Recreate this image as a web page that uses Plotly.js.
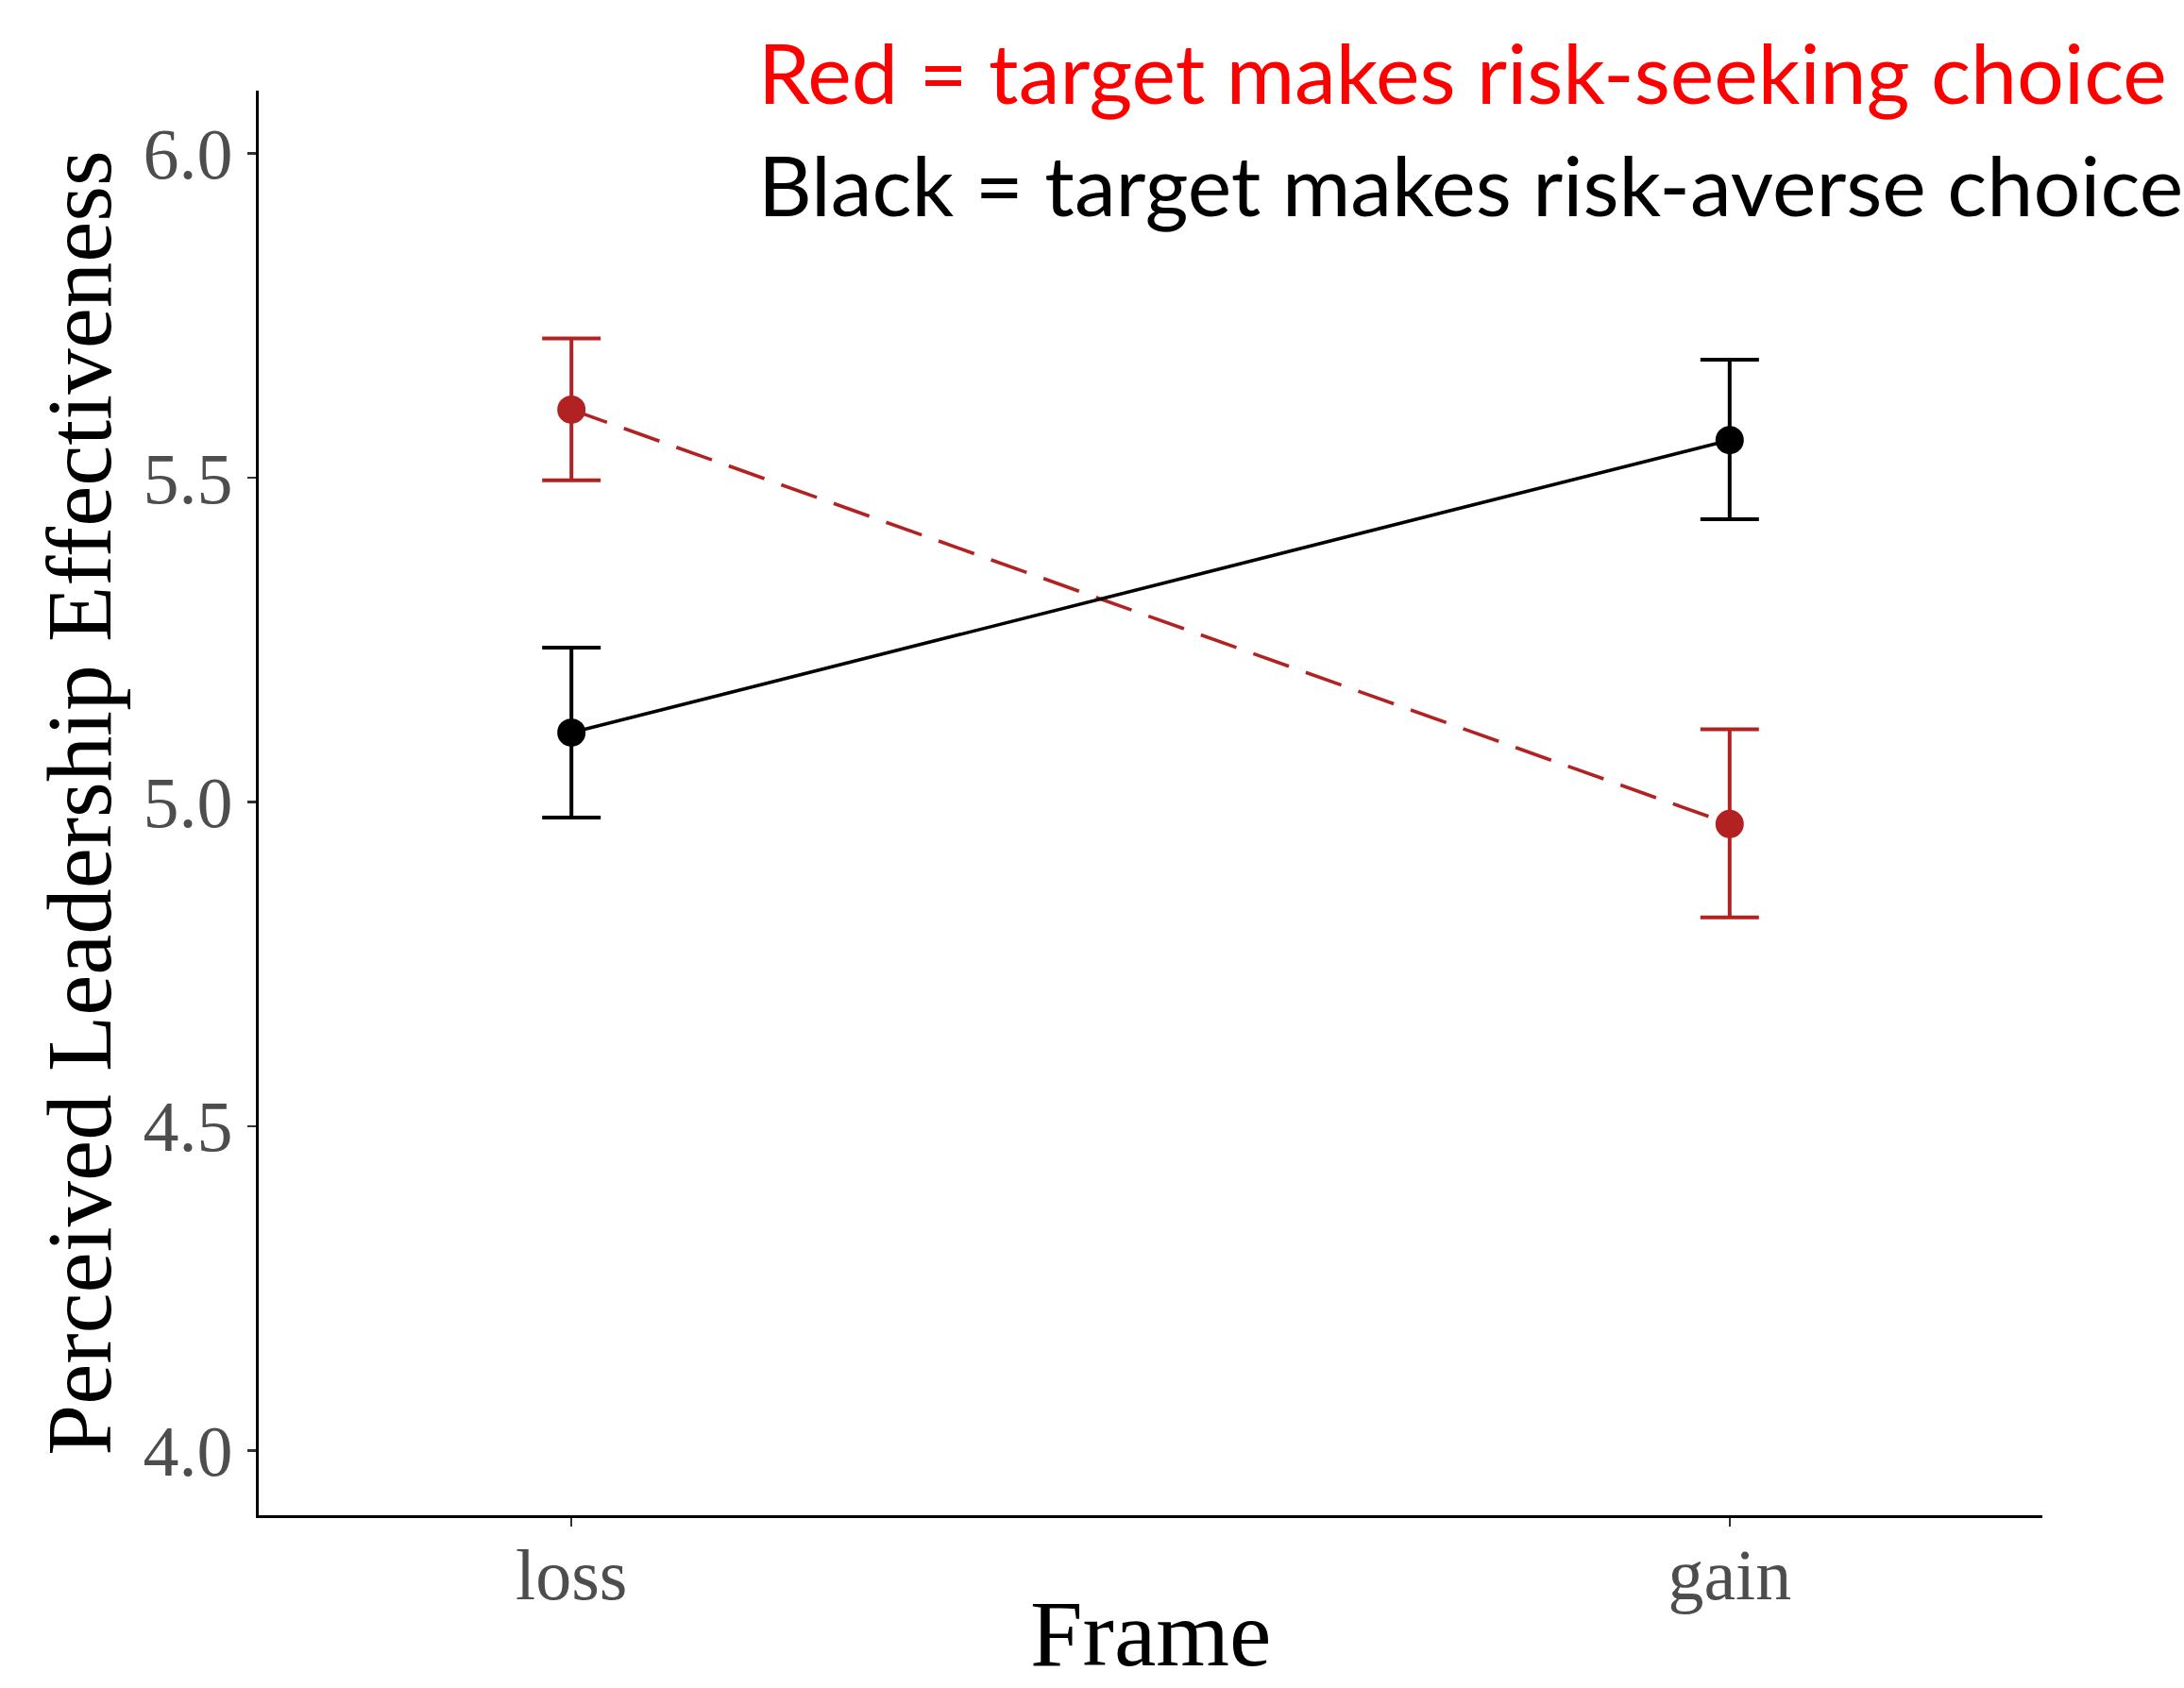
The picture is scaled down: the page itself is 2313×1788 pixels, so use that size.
<!DOCTYPE html>
<html>
<head>
<meta charset="utf-8">
<script src="https://cdn.plot.ly/plotly-3.0.1.min.js"></script>
<style>html,body{margin:0;padding:0;background:#fff;}#chart{width:2313px;height:1788px;}</style>
</head>
<body>
<div id="chart"></div>
<script>
// Data
const frames = ["loss", "gain"];
const riskSeekingMean = [5.605, 4.966];
const riskSeekingErrUp = [0.110, 0.146];
const riskSeekingErrDown = [0.109, 0.144];
const riskAverseMean = [5.107, 5.558];
const riskAverseErrUp = [0.131, 0.124];
const riskAverseErrDown = [0.131, 0.122];
const yTicks = [4.0, 4.5, 5.0, 5.5, 6.0];
const yTickText = ["4.0", "4.5", "5.0", "5.5", "6.0"];
const xTitle = "Frame";
const yTitle = "Perceived Leadership Effectiveness";
const legendLines = ["Red = target makes risk-seeking choice", "Black = target makes risk-averse choice"];

const red = "#B22222";
const traces = [
  {
    x: frames, y: riskSeekingMean, type: "scatter", mode: "lines+markers",
    line: {color: red, width: 3.6, dash: "40px,19px"},
    marker: {color: red, size: 30},
    error_y: {type: "data", symmetric: false, array: riskSeekingErrUp, arrayminus: riskSeekingErrDown,
              color: red, thickness: 4, width: 31},
    showlegend: false, hoverinfo: "skip"
  },
  {
    x: frames, y: riskAverseMean, type: "scatter", mode: "lines+markers",
    line: {color: "#000000", width: 3.6},
    marker: {color: "#000000", size: 30},
    error_y: {type: "data", symmetric: false, array: riskAverseErrUp, arrayminus: riskAverseErrDown,
              color: "#000000", thickness: 4, width: 31},
    showlegend: false, hoverinfo: "skip"
  }
];

const serif = "'Liberation Serif', 'Times New Roman', serif";
const layout = {
  width: 2313, height: 1788,
  paper_bgcolor: "#ffffff", plot_bgcolor: "#ffffff",
  margin: {l: 274, r: 150, t: 96, b: 183, pad: 0},
  showlegend: false,
  xaxis: {
    type: "category", range: [-0.27, 1.27],
    showline: true, linecolor: "#000000", linewidth: 3.2,
    showgrid: false, zeroline: false,
    ticks: "outside", ticklen: 9, tickwidth: 2.5, tickcolor: "#333333",
    ticklabelstandoff: -14,
    tickfont: {family: serif, size: 76, color: "#4D4D4D"},
    automargin: false, fixedrange: true
  },
  yaxis: {
    range: [3.9, 6.097],
    tickvals: yTicks, ticktext: yTickText,
    showline: true, linecolor: "#000000", linewidth: 3.2,
    showgrid: false, zeroline: false,
    ticks: "outside", ticklen: 9, tickwidth: 2.5, tickcolor: "#333333",
    tickfont: {family: serif, size: 76, color: "#4D4D4D"},
    title: {text: yTitle, font: {family: serif, size: 97, color: "#000000"}, standoff: 2},
    automargin: false, fixedrange: true
  },
  annotations: [
    {text: xTitle, xref: "paper", yref: "paper", x: 0.5, y: -0.083,
     xanchor: "center", yanchor: "middle", showarrow: false,
     font: {family: serif, size: 100, color: "#000000"}},
    {text: legendLines[0], xref: "paper", yref: "paper", x: 0.2790, y: 1.0135,
     xanchor: "left", yanchor: "middle", showarrow: false,
     font: {family: "Lato, 'Open Sans', sans-serif", size: 88, color: "#FF0000"}},
    {text: legendLines[1], xref: "paper", yref: "paper", x: 0.2790, y: 0.9345,
     xanchor: "left", yanchor: "middle", showarrow: false,
     font: {family: "Lato, 'Open Sans', sans-serif", size: 88, color: "#000000"}}
  ]
};

Plotly.newPlot("chart", traces, layout, {displayModeBar: false, staticPlot: true});
</script>
</body>
</html>
